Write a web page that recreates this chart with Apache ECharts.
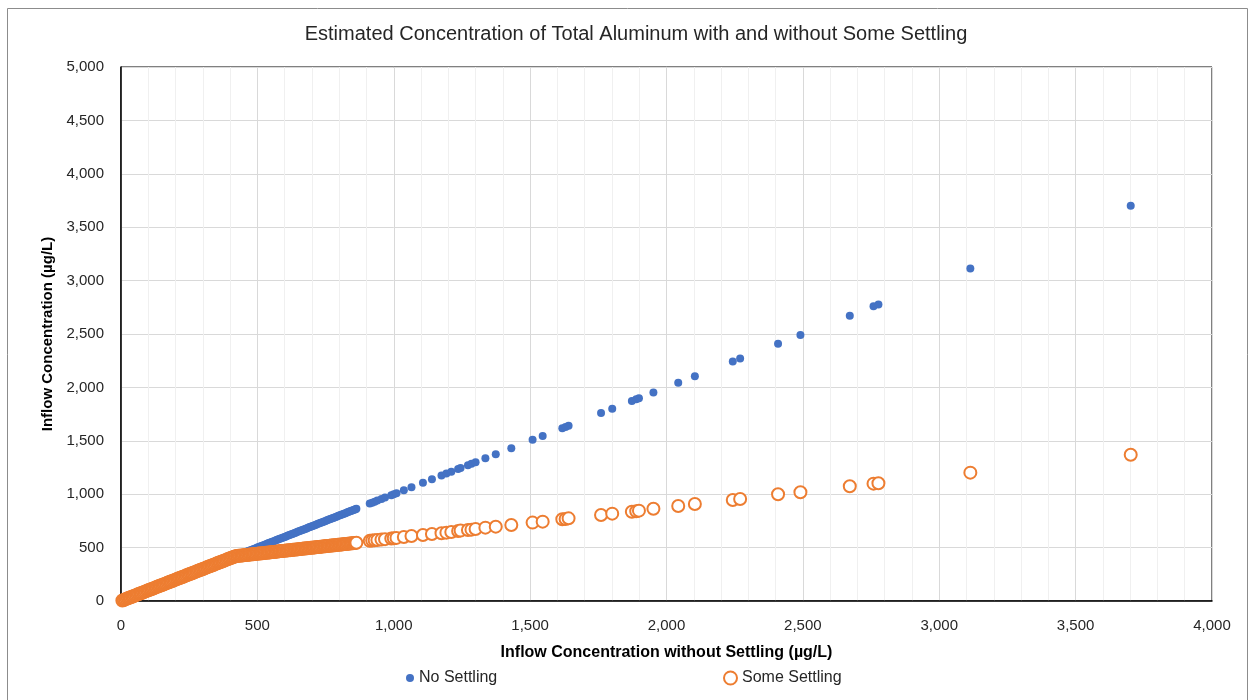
<!DOCTYPE html>
<html>
<head>
<meta charset="utf-8">
<script src="https://cdn.jsdelivr.net/npm/echarts@6/dist/echarts.min.js"></script>
<style>
html,body{margin:0;padding:0;background:#fff;}
#chart{width:1250px;height:700px;}
</style>
</head>
<body>
<div id="chart"></div>
<script>
// Inflow concentration without settling (x, µg/L)
const inflowWithoutSettling = [5,10,15,20,25,30,35,40,45,50,55,60,65,70,75,80,85,90,95,100,105,110,115,120,125,130,135,140,145,150,155,160,165,170,175,180,185,190,195,200,205,210,215,220,225,230,235,240,245,250,255,260,265,270,275,280,285,290,295,300,305,310,315,320,325,330,335,340,345,350,355,360,365,370,375,380,385,390,395,400,405,410,415,420,
  425,430,435,440,445,450,455,460,465,470,475,480,485,490,495,500,505,510,515,520,525,530,535,540,545,550,555,560,565,570,575,580,585,590,595,600,605,610,615,620,625,630,635,640,645,650,655,660,665,670,675,680,685,690,695,700,705,710,715,720,725,730,735,740,745,750,755,760,765,770,775,780,785,790,795,800,805,810,815,820,825,830,835,840,845,850,855,860,863,
  912, 921, 930, 940, 955, 968, 991, 1000, 1010, 1037, 1065, 1107, 1140, 1175, 1193, 1211, 1236, 1245, 1272, 1285, 1300, 1336, 1374, 1431, 1509, 1546, 1618, 1630, 1641, 1760, 1801, 1873, 1889, 1899, 1952, 2043, 2104, 2243, 2270, 2409, 2491, 2672, 2759, 2777, 3114, 3702];
// No Settling (y, µg/L)
const noSettling = [5,10,15,20,25,30,35,40,45,50,55,60,65,70,75,80,85,90,95,100,105,110,115,120,125,130,135,140,145,150,155,160,165,170,175,180,185,190,195,200,205,210,215,220,225,230,235,240,245,250,255,260,265,270,275,280,285,290,295,300,305,310,315,320,325,330,335,340,345,350,355,360,365,370,375,380,385,390,395,400,405,410,415,420,
  425,430,435,440,445,450,455,460,465,470,475,480,485,490,495,500,505,510,515,520,525,530,535,540,545,550,555,560,565,570,575,580,585,590,595,600,605,610,615,620,625,630,635,640,645,650,655,660,665,670,675,680,685,690,695,700,705,710,715,720,725,730,735,740,745,750,755,760,765,770,775,780,785,790,795,800,805,810,815,820,825,830,835,840,845,850,855,860,863,
  912, 921, 930, 940, 955, 968, 991, 1000, 1010, 1037, 1065, 1107, 1140, 1175, 1193, 1211, 1236, 1245, 1272, 1285, 1300, 1336, 1374, 1431, 1509, 1546, 1618, 1630, 1641, 1760, 1801, 1873, 1889, 1899, 1952, 2043, 2104, 2243, 2270, 2409, 2491, 2672, 2759, 2777, 3114, 3702];
// Some Settling (y, µg/L)
const someSettling = [5,10,15,20,25,30,35,40,45,50,55,60,65,70,75,80,85,90,95,100,105,110,115,120,125,130,135,140,145,150,155,160,165,170,175,180,185,190,195,200,205,210,215,220,225,230,235,240,245,250,255,260,265,270,275,280,285,290,295,300,305,310,315,320,325,330,335,340,345,350,355,360,365,370,375,380,385,390,395,400,405,410,415,420,
  421,423,424,426,427,428,430,431,433,434,436,437,438,440,441,443,444,445,447,448,450,451,452,454,455,457,458,459,461,462,464,465,467,468,469,471,472,474,475,476,478,479,481,482,483,485,486,488,489,491,492,493,495,496,498,499,500,502,503,505,506,507,509,510,512,513,515,516,517,519,520,522,523,524,526,527,529,530,531,533,534,536,537,538,540,541,543,544,545,
  563, 566, 568, 571, 575, 579, 585, 588, 591, 599, 609, 618, 627, 634, 640, 646, 655, 659, 665, 668, 674, 687, 696, 712, 734, 743, 765, 768, 774, 805, 818, 836, 840, 846, 864, 890, 908, 946, 955, 999, 1018, 1074, 1099, 1102, 1202, 1370];

const seriesNames = ['No Settling', 'Some Settling'];
const titleText = 'Estimated Concentration of Total Aluminum with and without Some Settling';
const xName = 'Inflow Concentration without Settling (\u00b5g/L)';
const yName = 'Inflow Concentration (\u00b5g/L)';

const blueData = inflowWithoutSettling.map((x, i) => [x, noSettling[i]]);
const orangeData = inflowWithoutSettling.map((x, i) => [x, someSettling[i]]);

const FONT = 'Liberation Sans';
const fmt = v => v.toLocaleString('en-US');

const chart = echarts.init(document.getElementById('chart'), null, {renderer: 'canvas'});
chart.setOption({
  animation: false,
  backgroundColor: '#fff',
  textStyle: {fontFamily: FONT},
  title: {
    text: titleText,
    left: 631, top: 19, textAlign: 'center',
    textStyle: {fontFamily: FONT, fontSize: 20, fontWeight: 'normal', color: '#262626'}
  },
  graphic: [{
    type: 'rect', shape: {x: 7.5, y: 8.5, width: 1240, height: 700},
    style: {fill: 'none', stroke: '#8c8c8c', lineWidth: 1}, silent: true, z: -1
  }],
  legend: [{
    data: [{name: seriesNames[0], icon: 'circle'}],
    left: 401, top: 665, itemWidth: 8, itemHeight: 8,
    textStyle: {fontFamily: FONT, fontSize: 16, color: '#262626'}
  }, {
    data: [{name: seriesNames[1], icon: 'emptyCircle'}],
    left: 718, top: 665, itemWidth: 13, itemHeight: 13,
    textStyle: {fontFamily: FONT, fontSize: 16, color: '#262626'}
  }],
  grid: {left: 121, right: 38, top: 67, bottom: 99, show: true, borderColor: '#000', borderWidth: 1},
  xAxis: {
    type: 'value', min: 0, max: 4000, interval: 500,
    name: xName, nameLocation: 'middle', nameGap: 44,
    nameTextStyle: {fontFamily: FONT, fontSize: 16, fontWeight: 'bold', color: '#000'},
    axisLine: {show: true, lineStyle: {color: '#000', width: 1.5}},
    axisTick: {show: false},
    axisLabel: {formatter: fmt, fontFamily: FONT, fontSize: 15, color: '#262626', margin: 17},
    splitLine: {show: true, lineStyle: {color: '#d9d9d9', width: 1}},
    minorTick: {show: false, splitNumber: 5},
    minorSplitLine: {show: true, lineStyle: {color: '#f0f0f0', width: 1}}
  },
  yAxis: {
    type: 'value', min: 0, max: 5000, interval: 500,
    name: yName, nameLocation: 'middle', nameGap: 65, nameRotate: 90,
    nameTextStyle: {fontFamily: FONT, fontSize: 15, fontWeight: 'bold', color: '#000'},
    axisLine: {show: true, lineStyle: {color: '#000', width: 1.5}},
    axisTick: {show: false},
    axisLabel: {formatter: fmt, fontFamily: FONT, fontSize: 15, color: '#262626', margin: 17},
    splitLine: {show: true, lineStyle: {color: '#d9d9d9', width: 1}}
  },
  series: [{
    name: seriesNames[0], type: 'scatter', data: blueData,
    symbol: 'circle', symbolSize: 8,
    itemStyle: {color: '#4472C4', opacity: 1}, z: 2
  }, {
    name: seriesNames[1], type: 'scatter', data: orangeData,
    symbol: 'emptyCircle', symbolSize: 12,
    itemStyle: {color: '#ED7D31', borderColor: '#ED7D31', borderWidth: 2, opacity: 1},
    z: 3
  }]
});
</script>
</body>
</html>
